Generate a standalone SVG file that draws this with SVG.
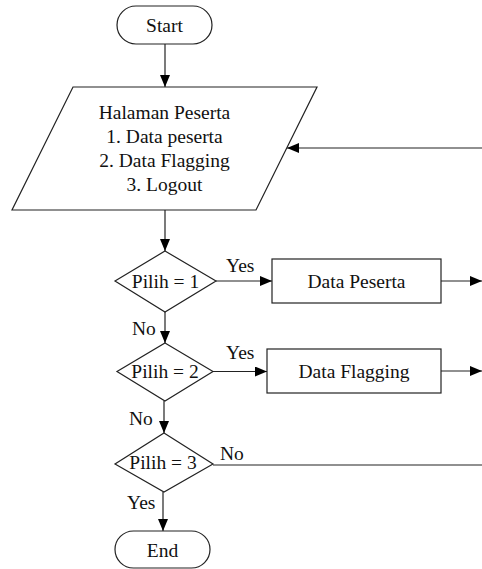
<svg xmlns="http://www.w3.org/2000/svg" width="482" height="569" viewBox="0 0 482 569" font-family="'Liberation Serif', 'Times New Roman', serif" font-size="19.5" fill="#111">
  <defs>
    <marker id="arrow" viewBox="0 0 12 10" refX="12" refY="5" markerWidth="12" markerHeight="10" markerUnits="userSpaceOnUse" orient="auto">
      <path d="M0,0 L12,5 L0,10 z" fill="#000"/>
    </marker>
  </defs>
  <style>
    .shape { fill: #fff; stroke: #222; stroke-width: 1.2; }
    .line { fill: none; stroke: #222; stroke-width: 1.2; }
    .arr { marker-end: url(#arrow); }
    .c { text-anchor: middle; }
  </style>
  <rect width="482" height="569" fill="#fff"/>

  <!-- connectors -->
  <g id="connectors">
    <line class="line arr" x1="165" y1="44" x2="165" y2="87"/>
    <line class="line arr" x1="165" y1="210" x2="165" y2="251"/>
    <line class="line arr" x1="216" y1="281" x2="272" y2="281"/>
    <line class="line arr" x1="441" y1="281" x2="482" y2="281"/>
    <line class="line arr" x1="165" y1="312" x2="165" y2="343"/>
    <line class="line arr" x1="213" y1="371.5" x2="267" y2="371.5"/>
    <line class="line arr" x1="441" y1="371" x2="482" y2="371"/>
    <line class="line arr" x1="164" y1="401" x2="164" y2="433"/>
    <line class="line" x1="213" y1="465" x2="482" y2="465"/>
    <line class="line arr" x1="163" y1="492" x2="163" y2="531"/>
    <line class="line arr" x1="482" y1="148" x2="287" y2="148"/>
    <text x="226" y="272">Yes</text>
    <text x="132" y="335">No</text>
    <text x="226" y="359">Yes</text>
    <text x="129" y="425">No</text>
    <text x="220" y="460">No</text>
    <text x="127" y="509">Yes</text>
  </g>

  <g id="start">
    <rect class="shape" x="117" y="6" width="95" height="38" rx="19" ry="19"/>
    <text class="c" x="164.5" y="32">Start</text>
  </g>

  <g id="halaman-peserta">
    <polygon class="shape" points="73,87 317,87 256,210 12,210"/>
    <text class="c" x="164.5" y="119">Halaman Peserta</text>
    <text class="c" x="164.5" y="143">1. Data peserta</text>
    <text class="c" x="164.5" y="167">2. Data Flagging</text>
    <text class="c" x="164.5" y="191">3. Logout</text>
  </g>

  <g id="pilih-1">
    <polygon class="shape" points="165,251 216,281 165,312 115,281"/>
    <text class="c" x="165.5" y="288">Pilih = 1</text>
  </g>

  <g id="data-peserta">
    <rect class="shape" x="272" y="259" width="169" height="44"/>
    <text class="c" x="356.5" y="288">Data Peserta</text>
  </g>

  <g id="pilih-2">
    <polygon class="shape" points="165,343 213,371.5 165,401 117,371.5"/>
    <text class="c" x="165" y="378">Pilih = 2</text>
  </g>

  <g id="data-flagging">
    <rect class="shape" x="267" y="349" width="174" height="44"/>
    <text class="c" x="354" y="378">Data Flagging</text>
  </g>

  <g id="pilih-3">
    <polygon class="shape" points="164,433 213,464 164,492 115,464"/>
    <text class="c" x="163" y="469">Pilih = 3</text>
  </g>

  <g id="end">
    <rect class="shape" x="115" y="531" width="95" height="37" rx="18.5" ry="18.5"/>
    <text class="c" x="162.5" y="557">End</text>
  </g>
</svg>
